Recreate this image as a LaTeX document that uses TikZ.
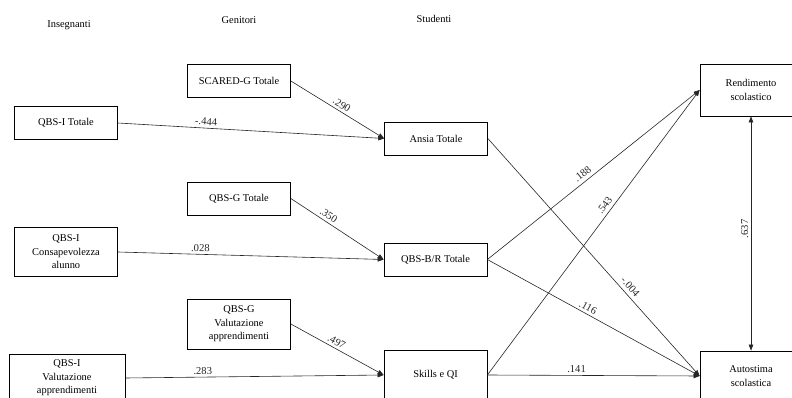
\documentclass[tikz,border=0pt]{standalone}
\usepackage{fontspec}
\setmainfont{Liberation Serif}
\usetikzlibrary{arrows.meta}
\begin{document}
\begin{tikzpicture}[x=1pt, y=-1pt,
    box/.style={draw, line width=0.7pt, align=center, minimum width=103pt, minimum height=33pt,
        inner sep=2pt, font=\fontsize{10.4}{13.5}\selectfont},
    tall/.style={box, minimum height=50pt},
    link/.style={line width=0.6pt, black!85, -{Triangle[length=6pt,width=4.5pt]}},
    coef/.style={font=\fontsize{10.6}{12}\selectfont, sloped, above, inner sep=2.5pt}]
    \clip (0,0) rectangle (792,398);
    % Headers
    \node[font=\fontsize{10.4}{12}\selectfont] (hins) at (69, 25) {Insegnanti};
    \node[font=\fontsize{10.4}{12}\selectfont] (hgen) at (239, 20) {Genitori};
    \node[font=\fontsize{10.4}{12}\selectfont] (hstu) at (434, 19) {Studenti};
    % Boxes
    \node[box] (scared) at (239, 81) {SCARED-G Totale};
    \node[box] (qbsitot) at (66, 123) {QBS-I Totale};
    \node[box] (qbsgtot) at (239, 198.5) {QBS-G Totale};
    \node[tall, minimum height=49pt] (qbsicons) at (66, 252) {QBS-I\\Consapevolezza\\alunno};
    \node[tall] (qbsgval) at (239, 324) {QBS-G\\Valutazione\\apprendimenti};
    \node[tall, minimum width=116pt, minimum height=48pt] (qbsival) at (67, 378) {QBS-I\\Valutazione\\apprendimenti};
    \node[box] (ansia) at (436, 138.5) {Ansia Totale};
    \node[box] (qbsbr) at (435.5, 259.5) {QBS-B/R Totale};
    \node[tall] (skills) at (435.5, 375) {Skills e QI};
    \node[tall, minimum width=102pt, minimum height=52pt] (rend) at (751, 90) {Rendimento\\scolastico};
    \node[tall, minimum width=102pt] (auto) at (751, 376) {Autostima\\scolastica};
    % Paths
    \draw[link] (qbsitot.east) -- (ansia.west) node[coef, pos=0.33] {-.444};
    \draw[link] (scared.east) -- (ansia.west) node[coef, pos=0.51] {.290};
    \draw[link] (qbsgtot.east) -- (qbsbr.west) node[coef, pos=0.37] {.350};
    \draw[link] (qbsicons.east) -- (qbsbr.west) node[coef, pos=0.31] {.028};
    \draw[link] (qbsgval.east) -- (skills.west) node[coef, pos=0.46] {.497};
    \draw[link] (qbsival.east) -- (skills.west) node[coef, pos=0.3] {.283};
    \draw[link] (qbsbr.east) -- (rend.west) node[coef, pos=0.47, inner sep=3.5pt] {.188};
    \draw[link] (skills.east) -- (rend.west) node[coef, pos=0.58, inner sep=3.5pt] {.543};
    \draw[link] (ansia.east) -- (auto.west) node[coef, pos=0.645, inner sep=4pt] {-.004};
    \draw[link] (qbsbr.east) -- (auto.west) node[coef, pos=0.46] {.116};
    \draw[link] (skills.east) -- (auto.west) node[coef, pos=0.42] {.141};
    \draw[link, {Triangle[length=6pt,width=4.5pt]}-{Triangle[length=6pt,width=4.5pt]}] (auto.north) -- (rend.south) node[coef, pos=0.52] {.637};
\end{tikzpicture}
\end{document}
